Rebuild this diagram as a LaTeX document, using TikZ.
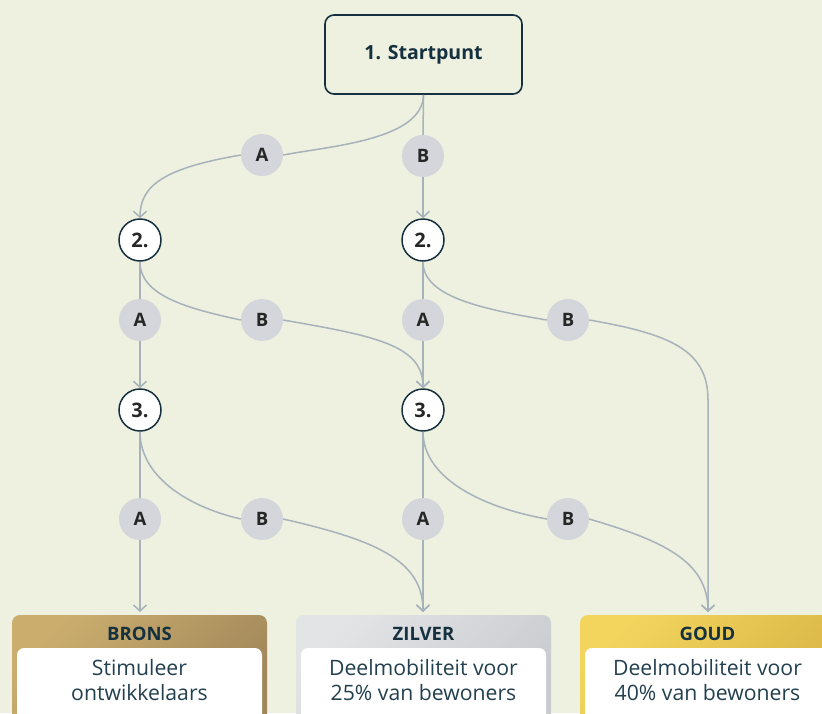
\documentclass[tikz,border=0pt]{standalone}
\usepackage{fontspec}
\setmainfont{Open Sans}
\usetikzlibrary{arrows.meta}

\definecolor{paper}{HTML}{EEF0E0}
\definecolor{navy}{HTML}{15303F}
\definecolor{ink}{HTML}{23404F}
\definecolor{wirecol}{HTML}{A6B3BB}
\definecolor{chipcol}{HTML}{D5D6DB}
\definecolor{bronsA}{HTML}{CBAE6E}
\definecolor{bronsB}{HTML}{A0865A}
\definecolor{zilverA}{HTML}{E3E4E6}
\definecolor{zilverB}{HTML}{C8CACE}
\definecolor{goudA}{HTML}{F3D55E}
\definecolor{goudB}{HTML}{D8B445}

\tikzset{
  startbox/.style={draw=navy, line width=1.6pt, rounded corners=9pt, fill=paper,
    minimum width=197pt, minimum height=79pt, inner sep=0pt, text=navy,
    font=\fontsize{19.5}{22}\selectfont\bfseries},
  stage/.style={circle, draw=navy, line width=1.5pt, fill=white, minimum size=42pt,
    inner sep=0pt, text=black!85, font=\fontsize{20}{22}\selectfont\bfseries},
  choice/.style={circle, fill=chipcol, minimum size=42pt, inner sep=0pt,
    text=black!85, font=\fontsize{18.5}{20}\selectfont\bfseries},
  wire/.style={draw=wirecol, line width=1.5pt},
  flow/.style={wire, -{Straight Barb[length=6pt,width=13pt,line width=1.5pt]}},
  tier/.style={rounded corners=8pt, minimum width=255pt, minimum height=115pt,
    inner sep=0pt},
  tiername/.style={text=navy, font=\fontsize{18.5}{20}\selectfont\bfseries},
  card/.style={fill=white, rounded corners=7pt, minimum width=245pt,
    minimum height=82pt, inner sep=0pt},
  cardtext/.style={text=ink, align=center,
    font=\fontsize{21.2}{24.5}\selectfont},
}

\begin{document}
\begin{tikzpicture}[x=1pt, y=-1pt]
\useasboundingbox (0,0) rectangle (822,713);
\clip (0,0) rectangle (822,713);
\fill[paper] (0,0) rectangle (822,713);

% start and decision stages
\node[startbox] (start) at (423.5,54.5) {1. Startpunt};
\node[stage] (s2a) at (140,240) {2.};
\node[stage] (s2b) at (423,240) {2.};
\node[stage] (s3a) at (140,410) {3.};
\node[stage] (s3b) at (423,410) {3.};

% choice chips
\node[choice] (c1a) at (262,155) {A};
\node[choice] (c1b) at (423,156) {B};
\node[choice] (c2aa) at (140,320) {A};
\node[choice] (c2ab) at (262,320) {B};
\node[choice] (c2ba) at (423,320) {A};
\node[choice] (c2bb) at (568,320) {B};
\node[choice] (c3aa) at (140,519) {A};
\node[choice] (c3ab) at (262,519) {B};
\node[choice] (c3ba) at (423,519) {A};
\node[choice] (c3bb) at (568,519) {B};

% outcome tiers
\node[tier, top color=bronsA, bottom color=bronsB, shading angle=45] (brons) at (139.5,672.5) {};
\node[tier, top color=zilverA, bottom color=zilverB, shading angle=45] (zilver) at (423.5,672.5) {};
\node[tier, top color=goudA, bottom color=goudB, shading angle=45] (goud) at (707.5,672.5) {};
\node[tiername] (bronsname) at (139.5,633.5) {BRONS};
\node[tiername] (zilvername) at (423.5,633.5) {ZILVER};
\node[tiername] (goudname) at (707.5,633.5) {GOUD};
\node[card] (bronscard) at (139.5,689) {};
\node[card] (zilvercard) at (423.5,689) {};
\node[card] (goudcard) at (707.5,689) {};
\node[cardtext] (bronstext) at (139.5,680) {Stimuleer\\ontwikkelaars};
\node[cardtext] (zilvertext) at (423.5,680) {Deelmobiliteit voor\\25\% van bewoners};
\node[cardtext] (goudtext) at (707.5,680) {Deelmobiliteit voor\\40\% van bewoners};

% step 1
\draw[flow] (start.south) .. controls (423,140) and (330,146) .. (c1a.east)
  (c1a.west) .. controls (165,168) and (140,185) .. (s2a.north);
\draw[wire] (start.south) -- (c1b.north);
\draw[flow] (c1b.south) -- (s2b.north);

% step 2
\draw[wire] (s2a.south) -- (c2aa.north);
\draw[flow] (c2aa.south) -- (s3a.north);
\draw[flow] (s2a.south) .. controls (140,295) and (185,308) .. (c2ab.west)
  (c2ab.east) .. controls (375,336) and (423,345) .. (s3b.north);
\draw[wire] (s2b.south) -- (c2ba.north);
\draw[flow] (c2ba.south) -- (s3b.north);
\coordinate (goudin) at (708,612);
\draw[flow] (s2b.south) .. controls (423,295) and (475,308) .. (c2bb.west)
  (c2bb.east) .. controls (670,334) and (708,350) .. (708,400) -- (goudin);

% step 3
\coordinate (bronsin) at (140,612);
\coordinate (zilverin) at (423,612);
\draw[wire] (s3a.south) -- (c3aa.north);
\draw[flow] (c3aa.south) -- (bronsin);
\draw[flow] (s3a.south) .. controls (140,475) and (185,506) .. (c3ab.west)
  (c3ab.east) .. controls (375,540) and (423,560) .. (zilverin);
\draw[wire] (s3b.south) -- (c3ba.north);
\draw[flow] (c3ba.south) -- (zilverin);
\draw[flow] (s3b.south) .. controls (423,475) and (475,506) .. (c3bb.west)
  (c3bb.east) .. controls (660,540) and (708,560) .. (goudin);
\end{tikzpicture}
\end{document}
